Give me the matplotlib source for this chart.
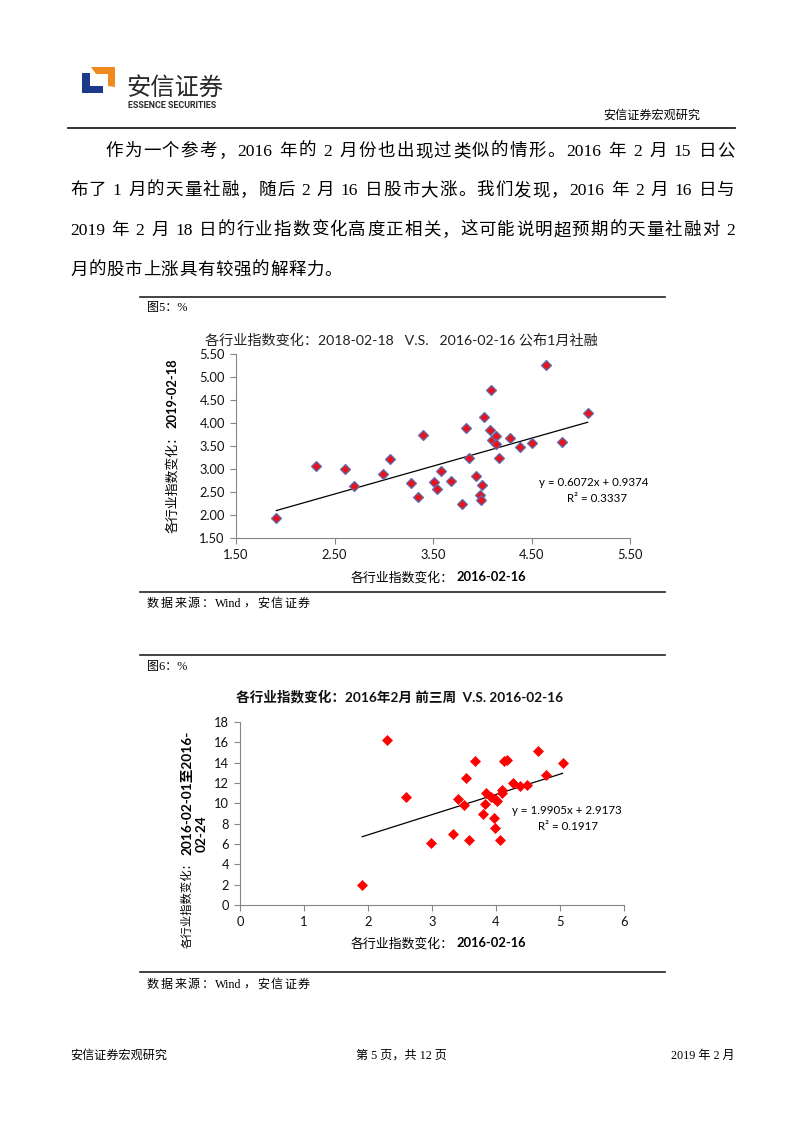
import re
import numpy as np
import matplotlib
matplotlib.use('Agg')
import matplotlib.pyplot as plt
from matplotlib.patches import Polygon

# Page size in pixels (dpi 100)
W, H = 802, 1133

CJK = 'Noto Sans CJK SC'
SERIF = ['Liberation Serif', CJK]
SANS = ['Lato', CJK]

# Figure 5: 2016-02-16 change vs 2019-02-18 change
x_20160216 = [1.91, 2.31, 2.61, 2.70, 2.99, 3.06, 3.28, 3.35, 3.40, 3.51,
              3.54, 3.58, 3.68, 3.79, 3.84, 3.87, 3.94, 3.98, 3.99, 4.00,
              4.02, 4.08, 4.09, 4.10, 4.14, 4.14, 4.17, 4.28, 4.38, 4.50,
              4.65, 4.81, 5.07]
y_20190218 = [1.93, 3.07, 3.01, 2.62, 2.90, 3.22, 2.70, 2.40, 3.73, 2.71,
              2.57, 2.95, 2.73, 2.24, 3.90, 3.24, 2.84, 2.44, 2.32, 2.66,
              4.12, 3.85, 4.71, 3.62, 3.72, 3.54, 3.25, 3.67, 3.47, 3.57,
              5.27, 3.59, 4.21]
fit_5 = (0.6072, 0.9374)
r2_5 = 0.3337

# Figure 6: 2016-02-16 change vs 2016-02-01 to 2016-02-24 change
x_feb16 = [1.91, 2.30, 2.60, 2.98, 3.33, 3.41, 3.50, 3.53, 3.58, 3.67,
           3.79, 3.83, 3.85, 3.92, 3.97, 3.98, 3.99, 4.02, 4.07, 4.09,
           4.10, 4.13, 4.17, 4.27, 4.38, 4.49, 4.66, 4.78, 5.04]
y_feb_3wk = [1.96, 16.2, 10.63, 6.13, 6.95, 10.38, 9.83, 12.46, 6.39, 14.13,
             8.95, 9.96, 11.04, 10.58, 8.58, 10.38, 7.54, 10.22, 6.39, 11.34,
             10.98, 14.2, 14.3, 12.0, 11.67, 11.83, 15.14, 12.81, 13.96]
fit_6 = (1.9905, 2.9173)
r2_6 = 0.1917

body_lines = [
    '作为一个参考，2016 年的 2 月份也出现过类似的情形。2016 年 2 月 15 日公',
    '布了 1 月的天量社融，随后 2 月 16 日股市大涨。我们发现，2016 年 2 月 16 日与',
    '2019 年 2 月 18 日的行业指数变化高度正相关，这可能说明超预期的天量社融对 2',
    '月的股市上涨具有较强的解释力。',
]

plt.rcParams['font.family'] = SANS

fig = plt.figure(figsize=(W / 100, H / 100), dpi=100)
fig.patch.set_facecolor('white')


def put(x, y, s, **kw):
    """Text at pixel position (y measured from the top)."""
    return fig.text(x / W, 1 - y / H, s, **kw)


def hline(y, x0, x1, lw=1.2, color='#222222'):
    fig.add_artist(plt.Line2D([x0 / W, x1 / W], [1 - y / H, 1 - y / H],
                              transform=fig.transFigure, lw=lw, color=color))


def justify(line, x0, x1, y, size, family=SERIF):
    """Spread the tokens of one line evenly between x0 and x1."""
    tokens = re.findall(r'[0-9A-Za-z]+| |\S', line)
    space = size * 100 / 72 * 0.25
    texts, widths = [], []
    r = fig.canvas.get_renderer()
    for tok in tokens:
        if tok == ' ':
            texts.append(None)
            widths.append(space)
            continue
        t = put(0, y, tok, fontsize=size, family=family, va='center')
        texts.append(t)
        widths.append(t.get_window_extent(r).width)
    gap = (x1 - x0 - sum(widths)) / (len(tokens) - 1)
    x = x0
    for t, w in zip(texts, widths):
        if t is not None:
            t.set_x(x / W)
        x += w + gap


def logo():
    blue = [(82, 73), (90, 73), (90, 86), (103, 86), (103, 93), (82, 93)]
    orange = [(91, 67), (115, 67), (115, 87), (108, 86), (108, 74), (96, 74)]
    for pts, c in ((blue, '#1d3a8a'), (orange, '#f0891e')):
        fig.add_artist(Polygon([(x / W, 1 - y / H) for x, y in pts],
                               closed=True, transform=fig.transFigure,
                               facecolor=c, edgecolor='none'))
    put(126, 88, '安信证券', fontsize=17.5, family=CJK, color='#2a2a2a',
        va='center')
    put(128, 105, 'ESSENCE SECURITIES', fontsize=6.4, family='Roboto',
        weight='bold', color='#2a2a2a', va='center')


def style_axes(ax):
    for s in ('top', 'right'):
        ax.spines[s].set_visible(False)
    for s in ('left', 'bottom'):
        ax.spines[s].set_color('#868686')
        ax.spines[s].set_linewidth(0.8)
    ax.tick_params(direction='out', length=4, width=0.8, color='#868686',
                   labelsize=9.3, pad=4, labelcolor='#111111')
    ax.set_facecolor('white')


def split_label(ax_x, ax_y, cjk, bold, size, rotated=False, bold_size=None):
    """CJK part in normal weight, date part in bold, joined at a point."""
    bold_size = bold_size or size
    if rotated:
        put(ax_x, ax_y + 1, cjk, fontsize=size, rotation=90, ha='center',
            va='top')
        put(ax_x, ax_y - 1, bold, fontsize=bold_size, rotation=90,
            ha='center', va='bottom', weight='bold')
    else:
        put(ax_x - 1, ax_y, cjk, fontsize=size, ha='right', va='center')
        put(ax_x + 1, ax_y, bold, fontsize=bold_size, ha='left', va='center',
            weight='bold')


# Header
logo()
put(700, 116, '安信证券宏观研究', fontsize=8.7, family=SERIF, ha='right',
    va='center')
hline(128, 68, 735, lw=1.3)

# Body paragraph
body_y = [152, 191, 231, 271]
justify(body_lines[0], 105, 735, body_y[0], 12.6)
justify(body_lines[1], 70, 735, body_y[1], 12.6)
justify(body_lines[2], 70, 735, body_y[2], 12.6)
justify(body_lines[3], 70, 342, body_y[3], 12.6)

# ---- Figure 5 ----
hline(297, 140, 665)
put(147, 308, '图5：%', fontsize=8.7, family=SERIF, va='center')
put(401, 340, '各行业指数变化：2018-02-18   V.S.   2016-02-16 公布1月社融',
    fontsize=10.2, ha='center', va='center', color='#222222')

ax1 = fig.add_axes([236 / W, 1 - 538 / H, 394 / W, 184 / H])
style_axes(ax1)
ax1.plot(x_20160216, y_20190218, linestyle='none', marker='D',
         markersize=4.8, markerfacecolor='#e8141c', markeredgecolor='#5a6fb2',
         markeredgewidth=0.9, zorder=3)
xs = np.array([min(x_20160216), max(x_20160216)])
ax1.plot(xs, fit_5[0] * xs + fit_5[1], color='black', lw=0.9, zorder=2)
ax1.set_xlim(1.5, 5.5)
ax1.set_ylim(1.5, 5.5)
ax1.set_xticks(np.arange(1.5, 5.51, 1.0))
ax1.set_yticks(np.arange(1.5, 5.51, 0.5))
ax1.set_xticklabels(['%.2f' % v for v in ax1.get_xticks()])
ax1.set_yticklabels(['%.2f' % v for v in ax1.get_yticks()])

put(594, 483, 'y = %.4fx + %.4f' % fit_5, fontsize=8.3, ha='center',
    va='center')
put(597, 498, 'R² = %.4f' % r2_5, fontsize=8.3, ha='center', va='center')
split_label(455, 577, '各行业指数变化：', '2016-02-16', 9.3)
split_label(172, 429, '各行业指数变化：', '2019-02-18', 9.3, rotated=True)

hline(592, 140, 665)
justify('数据来源：Wind，安信证券', 147, 310, 604, 8.7)

# ---- Figure 6 ----
hline(655, 140, 665)
put(147, 667, '图6：%', fontsize=8.7, family=SERIF, va='center')
put(400, 697, '各行业指数变化：2016年2月 前三周  V.S. 2016-02-16',
    fontsize=9.8, weight='bold', ha='center', va='center', color='#111111')

ax2 = fig.add_axes([240 / W, 1 - 905 / H, 384 / W, 183 / H])
style_axes(ax2)
ax2.plot(x_feb16, y_feb_3wk, linestyle='none', marker='D', markersize=5.2,
         markerfacecolor='#ff0000', markeredgecolor='#ff0000',
         markeredgewidth=0.5, zorder=3)
xs = np.array([min(x_feb16), max(x_feb16)])
ax2.plot(xs, fit_6[0] * xs + fit_6[1], color='black', lw=0.9, zorder=2)
ax2.set_xlim(0, 6)
ax2.set_ylim(0, 18)
ax2.set_xticks(np.arange(0, 7, 1))
ax2.set_yticks(np.arange(0, 19, 2))

put(567, 811, 'y = %.4fx + %.4f' % fit_6, fontsize=8.3, ha='center',
    va='center')
put(568, 827, 'R² = %.4f' % r2_6, fontsize=8.3, ha='center', va='center')
split_label(455, 943, '各行业指数变化：', '2016-02-16', 9.3)
split_label(187, 856, '各行业指数变化：', '2016-02-01至2016-', 8.2,
            rotated=True, bold_size=9.8)
put(202, 834, '02-24', fontsize=9.8, rotation=90, ha='center', va='center',
    weight='bold')

hline(972, 140, 665)
justify('数据来源：Wind，安信证券', 147, 310, 985, 8.7)

# Footer
put(70, 1056, '安信证券宏观研究', fontsize=8.7, family=SERIF, va='center')
put(401, 1056, '第 5 页，共 12 页', fontsize=8.7, family=SERIF, ha='center',
    va='center')
put(735, 1056, '2019 年 2 月', fontsize=8.7, family=SERIF, ha='right',
    va='center')

fig.savefig('out.png', dpi=100, facecolor='white')
